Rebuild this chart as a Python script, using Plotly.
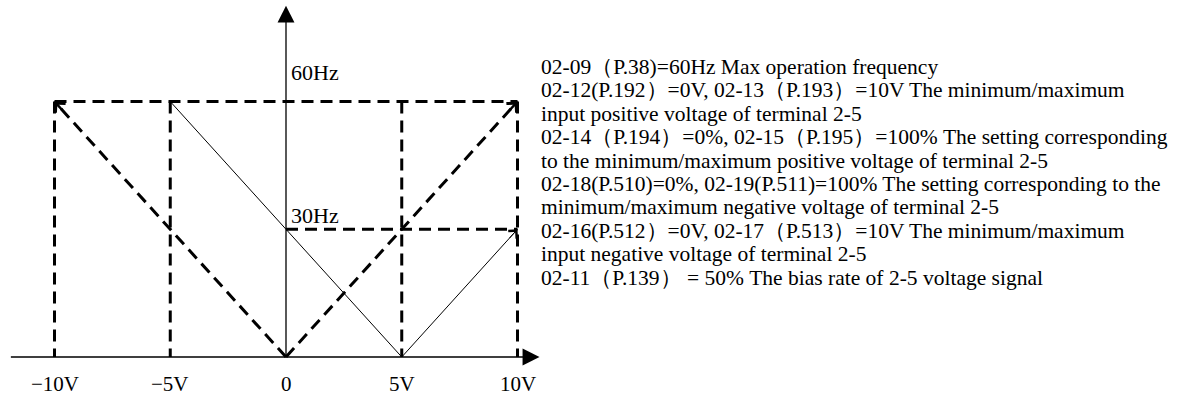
import plotly.graph_objects as go

# ---- data -------------------------------------------------------------
volt_ticks = [-10, -5, 0, 5, 10]
volt_labels = ["−10V", "−5V", "0", "5V", "10V"]
freq_max = 60          # Hz, 02-09 max operation frequency
freq_bias = 30         # Hz, 50% bias level
freq_labels = ["60Hz", "30Hz"]

# bold dashed V: frequency vs. input voltage (negative & positive side)
v_curve_x = [-10, 0, 10]
v_curve_y = [60, 0, 60]
# thin solid line: characteristic shifted by the bias
bias_x = [-5, 5, 10]
bias_y = [60, 0, 30]
# dashed guide lines
guide_vert_x = [-10, -5, 5, 10]
top_guide_x = [-10, 10]
mid_guide_x = [0, 10]

notes = [
    "02-09（P.38)=60Hz Max operation frequency",
    "02-12(P.192）=0V, 02-13（P.193）=10V The minimum/maximum",
    "input positive voltage of terminal 2-5",
    "02-14（P.194）=0%, 02-15（P.195）=100% The setting corresponding",
    "to the minimum/maximum positive voltage of terminal 2-5",
    "02-18(P.510)=0%, 02-19(P.511)=100% The setting corresponding to the",
    "minimum/maximum negative voltage of terminal 2-5",
    "02-16(P.512）=0V, 02-17（P.513）=10V The minimum/maximum",
    "input negative voltage of terminal 2-5",
    "02-11（P.139） = 50% The bias rate of 2-5 voltage signal",
]

# ---- geometry ---------------------------------------------------------
W, H = 1179, 397
X0_PX, PX_PER_V = 286, 23.15      # where 0 V sits and scale per volt
Y0_PX, PX_PER_HZ = 357, 4.258     # where 0 Hz sits and scale per Hz
x_range = [-X0_PX / PX_PER_V, (W - X0_PX) / PX_PER_V]
y_range = [-(H - Y0_PX) / PX_PER_HZ, Y0_PX / PX_PER_HZ]

x_axis_start, x_axis_tip = -11.95, 10.95
y_axis_tip = 82.5

SERIF = "Liberation Serif, Times New Roman, serif"
DASH = "12px,7px"
BLACK = "black"

fig = go.Figure()

def add_line(xs, ys, width, dash=None):
    fig.add_trace(go.Scatter(
        x=xs, y=ys, mode="lines",
        line=dict(color=BLACK, width=width, dash=dash or "solid"),
        hoverinfo="skip", showlegend=False,
    ))

# dashed guides
add_line(top_guide_x, [freq_max] * len(top_guide_x), 3, DASH)
for gx in guide_vert_x:
    add_line([gx, gx], [freq_max, 0], 3, DASH)
add_line(mid_guide_x, [freq_bias] * len(mid_guide_x), 3, DASH)

# bold dashed V
add_line(v_curve_x[:2][::-1], v_curve_y[:2][::-1], 3, DASH)
add_line(v_curve_x[1:], v_curve_y[1:], 3, DASH)

# thin bias characteristic
add_line(bias_x, bias_y, 1)

annotations = []

# axes drawn as arrows
annotations.append(dict(
    x=x_axis_tip, y=0, ax=x_axis_start, ay=0, xref="x", yref="y",
    axref="x", ayref="y", showarrow=True, arrowhead=2, arrowsize=2.6,
    arrowwidth=1.3, arrowcolor=BLACK, text="",
))
annotations.append(dict(
    x=0, y=y_axis_tip, ax=0, ay=0, xref="x", yref="y",
    axref="x", ayref="y", showarrow=True, arrowhead=2, arrowsize=2.6,
    arrowwidth=1.3, arrowcolor=BLACK, text="",
))

# open arrowheads at the ends of the characteristics
def head(x_from, y_from, x_to, y_to, width, size, frac):
    annotations.append(dict(
        x=x_to, y=y_to,
        ax=x_to + (x_from - x_to) * frac, ay=y_to + (y_from - y_to) * frac,
        xref="x", yref="y", axref="x", ayref="y",
        showarrow=True, arrowhead=4, arrowsize=size, arrowwidth=width,
        arrowcolor=BLACK, text="",
    ))

head(v_curve_x[1], v_curve_y[1], v_curve_x[0], v_curve_y[0], 2.4, 1.1, 0.04)
head(v_curve_x[1], v_curve_y[1], v_curve_x[2], v_curve_y[2], 2.4, 1.1, 0.04)
head(bias_x[1], bias_y[1], bias_x[2], bias_y[2], 1, 2.2, 0.08)

# tick labels under the horizontal axis
for v, lab in zip(volt_ticks, volt_labels):
    annotations.append(dict(
        x=v, y=-6.4, xref="x", yref="y", text=lab, showarrow=False,
        xanchor="center", yanchor="middle",
        font=dict(family=SERIF, size=21, color=BLACK),
    ))

# frequency labels beside the vertical axis (raised a little above level)
for f, lab, lift in zip([freq_max, freq_bias], freq_labels, [6.9, 3.2]):
    annotations.append(dict(
        x=0.15, y=f + lift,
        xref="x", yref="y", text=lab, showarrow=False,
        xanchor="left", yanchor="middle",
        font=dict(family=SERIF, size=22, color=BLACK),
    ))

# parameter notes on the right
NOTE_X, NOTE_Y0, NOTE_DY = 539, 67, 23.4
for i, line in enumerate(notes):
    annotations.append(dict(
        x=NOTE_X / W, y=1 - (NOTE_Y0 + i * NOTE_DY) / H,
        xref="paper", yref="paper", text=line, showarrow=False,
        xanchor="left", yanchor="middle",
        font=dict(family=SERIF, size=21.5, color=BLACK),
    ))

fig.update_layout(
    width=W, height=H,
    margin=dict(l=0, r=0, t=0, b=0),
    paper_bgcolor="white", plot_bgcolor="white",
    xaxis=dict(range=x_range, visible=False, fixedrange=True),
    yaxis=dict(range=y_range, visible=False, fixedrange=True),
    annotations=annotations,
    showlegend=False,
)

fig.write_html("out.html")
